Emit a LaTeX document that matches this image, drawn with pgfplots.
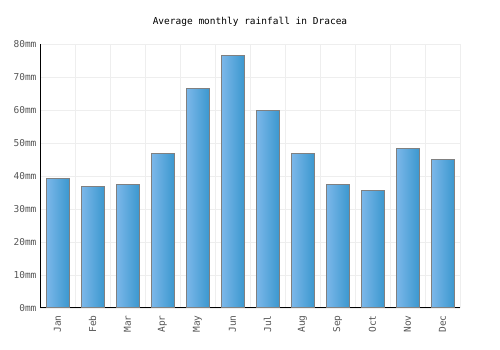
\documentclass[border=0pt]{standalone}
\usepackage{pgfplots}
\pgfplotsset{compat=1.18}
\usepackage{fontspec}
\setmainfont{DejaVu Sans Mono}
\definecolor{barL}{HTML}{7DB8EA}
\definecolor{barR}{HTML}{3C98CF}
\definecolor{gridc}{HTML}{EEEEEE}
\definecolor{tickc}{HTML}{555555}
\pgfplotsset{mybar/.style={ybar, bar width=23pt, bar shift=0pt, draw=gray, line width=1pt, left color=barL, right color=barR}}
\begin{document}
\begin{tikzpicture}
\path[use as bounding box] (0pt,0pt) rectangle (500pt,350pt);
\node[font=\fontsize{9.5}{10}\selectfont] at (250pt,328.5pt) {Average monthly rainfall in Dracea};
\begin{axis}[
  at={(40pt,42pt)}, anchor=south west,
  scale only axis, width=420pt, height=264pt,
  xmin=-0.5, xmax=11.5, ymin=0, ymax=80,
  axis x line*=bottom, axis y line*=left,
  axis line style={black, line width=1pt},
  tick style={draw=none},
  xtick={0,...,11},
  xticklabels={Jan,Feb,Mar,Apr,May,Jun,Jul,Aug,Sep,Oct,Nov,Dec},
  xticklabel shift=4pt,
  x tick label style={rotate=90, anchor=east, font=\fontsize{9.5}{10}\selectfont, text=tickc},
  minor xtick={0.5,1.5,...,11.5},
  xminorgrids, minor x grid style={gridc, line width=0.8pt},
  ytick={0,10,...,80},
  yticklabel={\pgfmathprintnumber{\tick}mm},
  y tick label style={font=\fontsize{9.5}{10}\selectfont, text=tickc},
  /pgf/number format/assume math mode=true,
  ymajorgrids, major grid style={gridc, line width=0.8pt},
  clip=false,
]
\addplot[mybar] coordinates {(0,39.2)};
\addplot[mybar] coordinates {(1,36.8)};
\addplot[mybar] coordinates {(2,37.4)};
\addplot[mybar] coordinates {(3,46.7)};
\addplot[mybar] coordinates {(4,66.6)};
\addplot[mybar] coordinates {(5,76.6)};
\addplot[mybar] coordinates {(6,59.7)};
\addplot[mybar] coordinates {(7,46.7)};
\addplot[mybar] coordinates {(8,37.4)};
\addplot[mybar] coordinates {(9,35.6)};
\addplot[mybar] coordinates {(10,48.2)};
\addplot[mybar] coordinates {(11,44.9)};
\end{axis}
\end{tikzpicture}
\end{document}
